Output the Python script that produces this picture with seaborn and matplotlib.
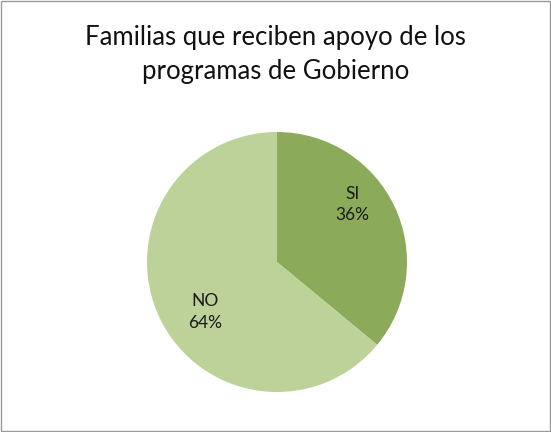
import matplotlib
matplotlib.use("Agg")
import matplotlib.pyplot as plt
import seaborn as sns
from matplotlib.patches import Rectangle

categorias = ["SI", "NO"]
porcentajes = [36, 64]
colores = ["#8cab5a", "#bcd298"]

sns.set_theme(style="white")
plt.rcParams['font.family'] = ['Lato', 'DejaVu Sans']

fig = plt.figure(figsize=(5.51, 4.32), dpi=100)
ax = fig.add_axes([147 / 551, 40 / 432, 260 / 551, 260 / 432])

ax.pie(porcentajes, colors=colores, startangle=90, counterclock=False,
       wedgeprops=dict(linewidth=0))
ax.set_xlim(-1, 1)
ax.set_ylim(-1, 1)
ax.set_aspect('equal')

# etiquetas dentro de las porciones
pos = {"SI": (0.58, 0.44), "NO": (-0.555, -0.385)}
for c, p in zip(categorias, porcentajes):
    x, y = pos[c]
    ax.text(x, y, f"{c}\n{p}%", ha='center', va='center', fontsize=12.5,
            color='#1a1a1a', linespacing=1.4)

fig.text(0.5, 0.873, "Familias que reciben apoyo de los\nprogramas de Gobierno",
         ha='center', va='center', fontsize=18.5, color='#111111',
         linespacing=1.45)

fig.patches.append(Rectangle((0.002, 0.002), 0.996, 0.996, transform=fig.transFigure,
                             fill=False, edgecolor='#9a9a9a', linewidth=1))

fig.savefig("out.png", dpi=100)
